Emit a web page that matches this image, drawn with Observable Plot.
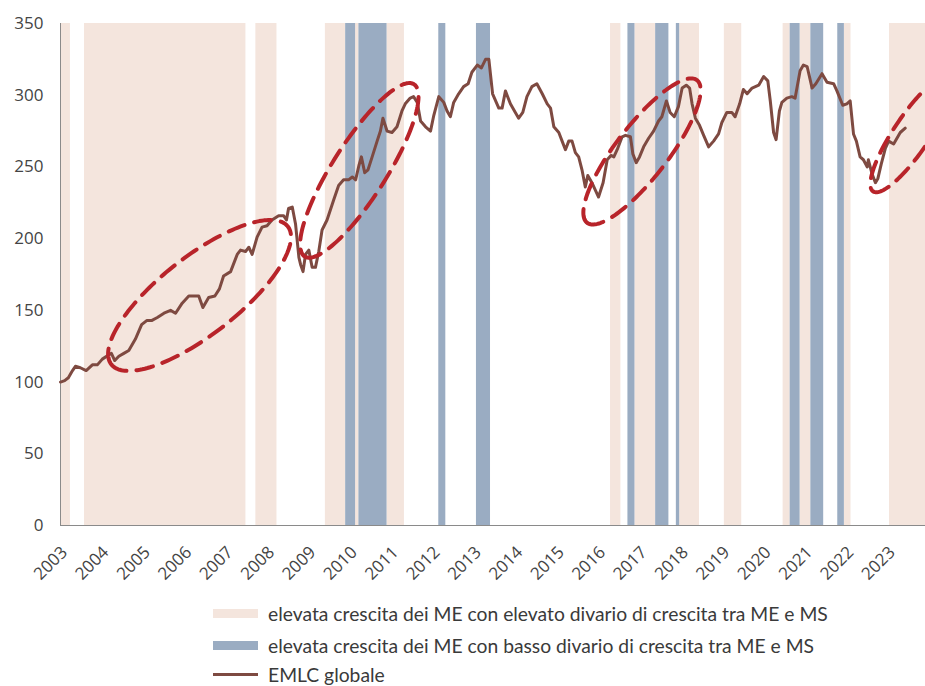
<!DOCTYPE html>
<html><head><meta charset="utf-8">
<script src="https://cdn.jsdelivr.net/npm/d3@7"></script>
<script src="https://cdn.jsdelivr.net/npm/@observablehq/plot@0.6"></script>
<style>
body{margin:0;background:#fff;overflow:hidden}
#chart{position:relative;width:925px;height:686px}
.lg{position:absolute;left:213px;height:20px;display:flex;align-items:center;font-family:Lato,"Open Sans",sans-serif;font-size:19.3px;color:#3a3a3a;white-space:nowrap}
.sw{width:45px;margin-right:10px;flex:none}
</style></head><body><div id="chart"></div><script>
// x tick labels (years)
const yearTicks = [2003,2004,2005,2006,2007,2008,2009,2010,2011,2012,2013,2014,2015,2016,2017,2018,2019,2020,2021,2022,2023];
const valueTicks = [0,50,100,150,200,250,300,350];

// periods: high EM growth with high EM-AE growth gap (decimal years)
const pinkStart = [2003.00,2003.58,2007.72,2009.40,2010.13,2010.89,2016.29,2016.88,2017.96,2019.04,2020.46,2020.87,2021.94,2023.03];
const pinkEnd   = [2003.24,2007.48,2008.23,2009.89,2010.21,2011.31,2016.54,2017.38,2018.44,2019.46,2020.63,2021.13,2022.10,2023.92];
// periods: high EM growth with low EM-AE growth gap
const blueStart = [2009.89,2010.21,2012.14,2013.05,2016.71,2017.38,2017.88,2020.63,2021.13,2021.78];
const blueEnd   = [2010.13,2010.89,2012.31,2013.39,2016.88,2017.70,2017.96,2020.87,2021.44,2021.94];

// EMLC globale index
const emlcYear = [2003.00,2003.10,2003.19,2003.29,2003.36,2003.48,2003.62,2003.77,2003.89,2004.01,2004.17,2004.23,2004.31,2004.41,2004.53,2004.65,2004.81,2004.96,2005.09,2005.21,2005.34,2005.50,2005.66,2005.78,2005.94,2006.10,2006.26,2006.34,2006.44,2006.58,2006.73,2006.84,2006.94,2007.11,2007.27,2007.35,2007.47,2007.55,2007.63,2007.75,2007.87,2007.99,2008.11,2008.27,2008.39,2008.46,2008.51,2008.60,2008.68,2008.76,2008.80,2008.86,2008.92,2009.00,2009.08,2009.16,2009.24,2009.32,2009.44,2009.60,2009.72,2009.84,2009.96,2010.05,2010.13,2010.21,2010.27,2010.35,2010.43,2010.53,2010.65,2010.73,2010.79,2010.89,2011.01,2011.13,2011.25,2011.33,2011.45,2011.53,2011.62,2011.70,2011.82,2011.94,2012.02,2012.14,2012.26,2012.34,2012.42,2012.50,2012.62,2012.74,2012.85,2012.94,2013.07,2013.17,2013.27,2013.35,2013.44,2013.59,2013.67,2013.75,2013.87,2013.99,2014.07,2014.17,2014.27,2014.39,2014.51,2014.64,2014.76,2014.84,2014.92,2015.04,2015.12,2015.20,2015.28,2015.36,2015.44,2015.52,2015.60,2015.68,2015.74,2015.84,2015.92,2016.00,2016.11,2016.21,2016.30,2016.37,2016.45,2016.57,2016.65,2016.77,2016.83,2016.91,2016.99,2017.09,2017.21,2017.33,2017.45,2017.53,2017.64,2017.73,2017.83,2017.93,2018.02,2018.12,2018.20,2018.26,2018.34,2018.44,2018.54,2018.66,2018.78,2018.90,2018.98,2019.10,2019.22,2019.30,2019.41,2019.50,2019.59,2019.71,2019.79,2019.87,2019.99,2020.09,2020.15,2020.23,2020.29,2020.37,2020.43,2020.55,2020.67,2020.75,2020.87,2020.95,2021.04,2021.16,2021.25,2021.40,2021.52,2021.68,2021.76,2021.90,2022.00,2022.08,2022.16,2022.23,2022.32,2022.40,2022.49,2022.52,2022.61,2022.69,2022.75,2022.83,2022.93,2023.01,2023.13,2023.21,2023.29,2023.41];
const emlcValue = [100,101,103,108,111,110,108,112,112,116,119,120,115,118,120,122,130,140,143,143,145,148,150,148,155,160,160,160,152,159,160,165,174,177,189,192,191,194,189,201,208,209,213,216,216,213,221,222,210,187,182,177,189,192,180,180,191,206,213,227,237,241,241,243,241,251,257,246,248,257,268,275,284,275,274,278,289,294,298,299,295,282,278,275,286,299,295,289,285,295,301,306,308,316,321,319,325,325,301,291,291,303,294,288,284,288,299,306,308,301,294,291,278,274,268,262,268,268,260,257,248,236,244,239,234,229,239,255,258,257,262,271,272,271,259,253,257,264,270,275,282,285,296,288,285,292,305,307,305,294,284,279,272,264,268,273,281,288,288,285,294,304,301,305,306,307,313,310,296,274,269,289,295,298,299,298,317,321,320,305,308,315,309,308,303,293,294,296,273,268,257,255,250,255,245,239,242,252,263,268,266,270,274,277];

// annotation ellipses: centre (year, value), semi-axes in px, tilt in degrees
const ellipseCx = [2006.36, 2010.22, 2017.05, 2023.58];
const ellipseCy = [160.4, 247.6, 260.8, 273.4];
const ellipseA  = [112, 102, 90, 70];
const ellipseB  = [39, 27, 26, 18];
const ellipseTilt = [38, 57.6, 52.4, 56];

const W = 925, H = 590, mL = 60, mR = 0, mT = 23, mB = 65;
const xDom = [2003, 2023.9], yDom = [0, 350];
const kx = (W - mL - mR) / (xDom[1] - xDom[0]);
const ky = (H - mT - mB) / (yDom[1] - yDom[0]);

const pink = pinkStart.map((s, i) => ({x1: s, x2: pinkEnd[i]}));
const blue = blueStart.map((s, i) => ({x1: s, x2: blueEnd[i]}));
const emlc = emlcYear.map((y, i) => ({year: y, value: emlcValue[i]}));

const ell = [];
ellipseCx.forEach((cx, k) => {
  const a = ellipseA[k], b = ellipseB[k], f = ellipseTilt[k] * Math.PI / 180;
  const ux = Math.cos(f), uy = -Math.sin(f), vx = Math.sin(f), vy = Math.cos(f);
  for (let j = 0; j <= 180; j++) {
    const t = Math.PI - j / 180 * 2 * Math.PI;
    const ox = a * Math.cos(t) * ux + b * Math.sin(t) * vx;
    const oy = a * Math.cos(t) * uy + b * Math.sin(t) * vy;
    ell.push({id: k, x: cx + ox / kx, y: ellipseCy[k] - oy / ky});
  }
});

const chart = Plot.plot({
  width: W, height: H, marginLeft: mL, marginRight: mR, marginTop: mT, marginBottom: mB,
  style: {fontFamily: "'Open Sans', sans-serif", fontSize: "17px", color: "#444", background: "#fff"},
  x: {domain: xDom, label: null},
  y: {domain: yDom, ticks: valueTicks, tickSize: 0, tickPadding: 17, label: null},
  marks: [
    Plot.rect(pink, {x1: "x1", x2: "x2", y1: 0, y2: 350, fill: "#f4e5dd"}),
    Plot.rect(blue, {x1: "x1", x2: "x2", y1: 0, y2: 350, fill: "#9aacc2"}),
    Plot.ruleX([xDom[0]], {stroke: "#8a8a8a", strokeWidth: 1}),
    Plot.ruleY([0], {stroke: "#8a8a8a", strokeWidth: 1}),
    Plot.axisX({ticks: yearTicks, tickFormat: d => String(d), tickRotate: -45, tickSize: 0, tickPadding: 24, dx: 4, label: null}),
    Plot.line(emlc, {x: "year", y: "value", stroke: "#7e4a41", strokeWidth: 3, strokeLinejoin: "round"}),
    Plot.line(ell, {x: "x", y: "y", z: "id", stroke: "#b8242a", strokeWidth: 4, strokeDasharray: "17,10", clip: true})
  ]
});
document.getElementById("chart").appendChild(chart);

const legendItems = [
  {label: "elevata crescita dei ME con elevato divario di crescita tra ME e MS", color: "#f4e5dd", h: 9, top: 603},
  {label: "elevata crescita dei ME con basso divario di crescita tra ME e MS", color: "#9aacc2", h: 9, top: 635},
  {label: "EMLC globale", color: "#7e4a41", h: 3, top: 664}
];
legendItems.forEach(it => {
  const row = document.createElement("div");
  row.className = "lg";
  row.style.top = it.top + "px";
  const sw = document.createElement("span");
  sw.className = "sw";
  sw.style.height = it.h + "px";
  sw.style.background = it.color;
  row.appendChild(sw);
  row.appendChild(document.createTextNode(it.label));
  document.getElementById("chart").appendChild(row);
});
</script></body></html>
